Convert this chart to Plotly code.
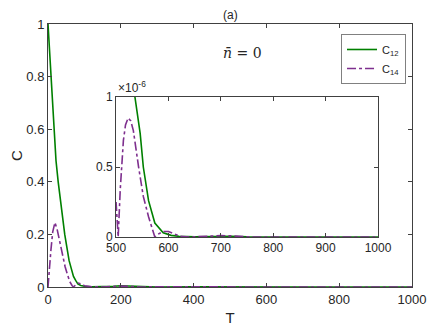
import plotly.graph_objects as go

# ---- data ----
T_c12 = [0, 4, 8, 12, 16, 22, 28, 36, 46, 52, 58, 64, 70, 76, 82, 90, 100, 120, 150, 180, 200, 230, 260, 300, 400, 500, 600, 700, 800, 900, 1000]
C12 = [1.0, 0.9, 0.8, 0.7, 0.6, 0.48, 0.4, 0.3, 0.2, 0.15, 0.1, 0.07, 0.04, 0.025, 0.012, 0.006, 0.003, 0.001, 0.001, 0.003, 0.005, 0.003, 0.001, 0.0, 0.001, 0.0, 0.0, 0.0, 0.0, 0.0, 0.0]

T_c14 = [0, 3, 8, 13, 19, 25, 33, 40, 47, 54, 60, 66, 70, 76, 83, 90, 100, 120, 150, 180, 200, 230, 260, 300, 400, 500, 600, 700, 800, 900, 1000]
C14 = [0.0, 0.07, 0.14, 0.21, 0.245, 0.22, 0.167, 0.12, 0.077, 0.045, 0.02, 0.006, 0.0, 0.008, 0.015, 0.012, 0.005, 0.001, 0.0, 0.002, 0.004, 0.002, 0.0, 0.001, 0.0, 0.0, 0.0, 0.0, 0.0, 0.0, 0.0]

# inset (values in units of 1e-6)
T_in12 = [500, 510, 520, 530, 536, 546, 552, 562, 574, 590, 605, 620, 650, 680, 700, 720, 750, 800, 900, 1000]
C12_in = [3.0, 2.3, 1.7, 1.25, 1.0, 0.74, 0.5, 0.26, 0.10, 0.03, 0.012, 0.005, 0.002, 0.006, 0.008, 0.006, 0.002, 0.0, 0.0, 0.0]

T_in14 = [500, 502, 504, 508, 514, 518, 523, 528, 533, 543, 552, 562, 568, 574, 580, 590, 600, 606, 615, 622, 640, 660, 680, 700, 720, 740, 760, 800, 900, 1000]
C14_in = [0.25, 0.1, 0.0, 0.34, 0.69, 0.80, 0.85, 0.83, 0.76, 0.50, 0.29, 0.145, 0.07, 0.0, 0.02, 0.04, 0.04, 0.03, 0.012, 0.005, 0.0, 0.003, 0.008, 0.01, 0.008, 0.003, 0.0, 0.0, 0.0, 0.0]
INSET_SCALE = 1e-6

main_xticks = [0, 200, 400, 600, 800, 1000]
main_yticks = [0, 0.2, 0.4, 0.6, 0.8, 1]
inset_xticks = [500, 600, 700, 800, 900, 1000]
inset_yticks = [0, 0.5, 1]

GREEN = "#008000"
PURPLE = "#7E2F8E"
AX = "#404040"
FONT = "Liberation Sans, Arial, sans-serif"

fig = go.Figure()
fig.add_trace(go.Scatter(x=T_c12, y=C12, mode="lines", name="C<sub>12</sub>",
                         line=dict(color=GREEN, width=1.6)))
fig.add_trace(go.Scatter(x=T_c14, y=C14, mode="lines", name="C<sub>14</sub>",
                         line=dict(color=PURPLE, width=1.6, dash="dashdot")))
fig.add_trace(go.Scatter(x=T_in12, y=[v * INSET_SCALE for v in C12_in], mode="lines",
                         showlegend=False, xaxis="x2", yaxis="y2",
                         line=dict(color=GREEN, width=1.6)))
fig.add_trace(go.Scatter(x=T_in14, y=[v * INSET_SCALE for v in C14_in], mode="lines",
                         showlegend=False, xaxis="x2", yaxis="y2",
                         line=dict(color=PURPLE, width=1.6, dash="dashdot")))

axis_common = dict(showline=True, linecolor=AX, linewidth=1, mirror="ticks",
                   ticks="inside", ticklen=4, tickcolor=AX, showgrid=False,
                   zeroline=False, automargin=False,
                   tickfont=dict(family=FONT, size=13, color="#262626"))
inset_font = dict(family=FONT, size=12, color="#262626")

fig.update_layout(
    width=428, height=319,
    margin=dict(l=40, r=24, t=16, b=40, autoexpand=False),
    paper_bgcolor="white", plot_bgcolor="white",
    font=dict(family=FONT, color="#262626"),
    showlegend=True,
    xaxis=dict(range=[0, 1000], tickvals=main_xticks, domain=[0, 1],
               title=dict(text="T", font=dict(size=15), standoff=6), **axis_common),
    yaxis=dict(range=[0, 1], tickvals=main_yticks, domain=[0, 1],
               title=dict(text="C", font=dict(size=15), standoff=18), **axis_common),
    xaxis2=dict(range=[500, 1000], tickvals=inset_xticks, domain=[0.187, 0.9066],
                anchor="y2", **{**axis_common, "tickfont": inset_font}),
    yaxis2=dict(range=[0, 1e-6], tickvals=[v * INSET_SCALE for v in inset_yticks],
                ticktext=[str(v) for v in inset_yticks], domain=[0.19, 0.7224],
                anchor="x2", **{**axis_common, "tickfont": inset_font}),
    legend=dict(x=0.805, y=0.962, xanchor="left", yanchor="top",
                bordercolor="#808080", borderwidth=1, bgcolor="white",
                font=dict(family=FONT, size=11, color="#262626"),
                itemwidth=30, tracegroupgap=0),
    annotations=[
        dict(text="(a)", x=0.5, y=1, xref="paper", yref="paper", xanchor="center",
             yanchor="bottom", yshift=0, showarrow=False, font=dict(size=12)),
        dict(text="<i>n̄</i> = 0", x=0.533, y=0.89, xref="paper", yref="paper",
             xanchor="center", yanchor="middle", showarrow=False,
             font=dict(family="DejaVu Serif, serif", size=14)),
        dict(text="×10<sup>-6</sup>", x=0.187, y=0.7224, xref="paper", yref="paper",
             xanchor="left", yanchor="bottom", showarrow=False,
             font=dict(size=12)),
    ],
)

fig.write_html("out.html")
